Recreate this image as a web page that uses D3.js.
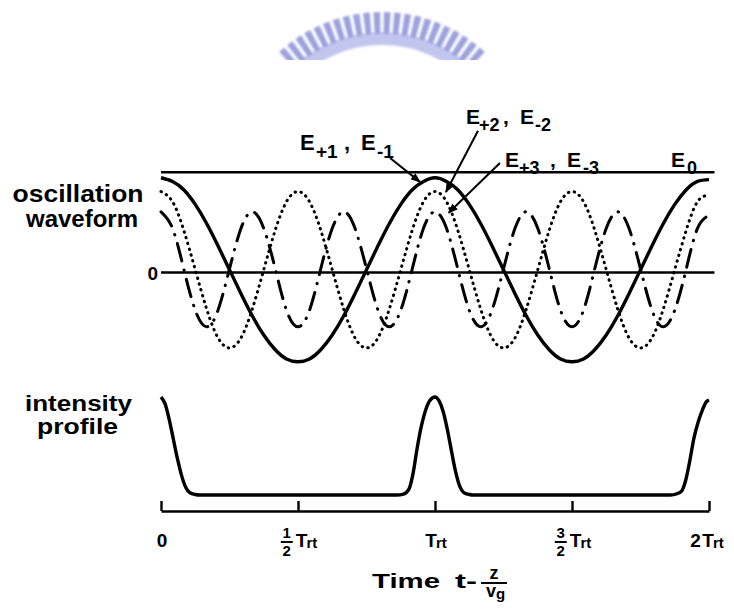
<!DOCTYPE html>
<html>
<head>
<meta charset="utf-8">
<script src="https://cdn.jsdelivr.net/npm/d3@7"></script>
<style>
  html, body { margin: 0; padding: 0; background: #fff; }
  svg { display: block; }
  text { font-family: "Liberation Sans", Arial, Helvetica, sans-serif; font-weight: bold; fill: #000; }
</style>
</head>
<body>
<svg id="chart" width="734" height="610"></svg>
<script>
// time samples in units of Trt (1/24 Trt apart)
const waveTime = [0, 0.042, 0.083, 0.125, 0.167, 0.208, 0.25, 0.292, 0.333, 0.375, 0.417, 0.458,
  0.5, 0.542, 0.583, 0.625, 0.667, 0.708, 0.75, 0.792, 0.833, 0.875, 0.917, 0.958,
  1, 1.042, 1.083, 1.125, 1.167, 1.208, 1.25, 1.292, 1.333, 1.375, 1.417, 1.458,
  1.5, 1.542, 1.583, 1.625, 1.667, 1.708, 1.75, 1.792, 1.833, 1.875, 1.917, 1.958, 2];

// E+1, E-1 (solid)
const waveE1 = [1.03, 0.99, 0.90, 0.74, 0.53, 0.29, 0.03, -0.23, -0.47, -0.68, -0.84, -0.94,
  -0.97, -0.94, -0.84, -0.68, -0.47, -0.23, 0.03, 0.29, 0.53, 0.74, 0.90, 0.99,
  1.03, 0.99, 0.90, 0.74, 0.53, 0.29, 0.03, -0.23, -0.47, -0.68, -0.84, -0.94,
  -0.97, -0.94, -0.84, -0.68, -0.47, -0.23, 0.03, 0.29, 0.53, 0.74, 0.90, 0.99, 1.01];

// E+2, E-2 (dotted)
const waveE2 = [0.88, 0.77, 0.46, 0.03, -0.40, -0.71, -0.82, -0.71, -0.40, 0.03, 0.46, 0.77,
  0.88, 0.77, 0.46, 0.03, -0.40, -0.71, -0.82, -0.71, -0.40, 0.03, 0.46, 0.77,
  0.88, 0.77, 0.46, 0.03, -0.40, -0.71, -0.82, -0.71, -0.40, 0.03, 0.46, 0.77,
  0.88, 0.77, 0.46, 0.03, -0.40, -0.71, -0.82, -0.71, -0.40, 0.03, 0.46, 0.77, 0.84];

// E+3, E-3 (dash-dot)
const waveE3 = [0.66, 0.48, 0.04, -0.41, -0.59, -0.41, 0.04, 0.48,
  0.66, 0.48, 0.04, -0.41, -0.59, -0.41, 0.04, 0.48,
  0.66, 0.48, 0.04, -0.41, -0.59, -0.41, 0.04, 0.48,
  0.66, 0.48, 0.04, -0.41, -0.59, -0.41, 0.04, 0.48,
  0.66, 0.48, 0.04, -0.41, -0.59, -0.41, 0.04, 0.48,
  0.66, 0.48, 0.04, -0.41, -0.59, -0.41, 0.04, 0.48, 0.62];

// E0 level and zero level
const refLevels = [1.09, 0];

// intensity profile
const intensityTime = [0, 0.015, 0.03, 0.045, 0.06, 0.075, 0.09, 0.105, 0.125, 0.14,
  0.5, 0.86, 0.885, 0.905, 0.92, 0.935, 0.95, 0.965, 0.98, 1.0,
  1.015, 1.03, 1.045, 1.06, 1.075, 1.09, 1.105, 1.125, 1.14,
  1.5, 1.86, 1.88, 1.9, 1.915, 1.93, 1.945, 1.96, 1.975, 1.99, 2.0];
const intensity = [1.0, 0.93, 0.77, 0.57, 0.37, 0.2, 0.08, 0.025, 0.005, 0,
  0, 0, 0.01, 0.06, 0.22, 0.48, 0.70, 0.86, 0.96, 1.0,
  0.96, 0.85, 0.67, 0.45, 0.24, 0.09, 0.025, 0.005, 0,
  0, 0, 0.01, 0.04, 0.15, 0.35, 0.58, 0.74, 0.86, 0.95, 0.97];

const tickValues = [0, 0.5, 1, 1.5, 2];
const tickLead = ['0', '', '', '', '2'];
const tickNum = ['', '1', '', '3', ''];
const tickDen = ['', '2', '', '2', ''];
const tickHasT = [false, true, true, true, true];

const svg = d3.select('#chart');

const x = d3.scaleLinear().domain([0, 2]).range([161, 709]);
const yWave = d3.scaleLinear().domain([-1, 1]).range([364.5, 180.5]);
const yInt = d3.scaleLinear().domain([0, 1]).range([495, 397]);

const defs = svg.append('defs');
defs.append('clipPath').attr('id', 'logoClip')
  .append('rect').attr('x', 0).attr('y', 0).attr('width', 734).attr('height', 60);
defs.append('filter').attr('id', 'soft')
  .append('feGaussianBlur').attr('stdDeviation', 0.8);
defs.append('marker')
  .attr('id', 'arrow')
  .attr('viewBox', '0 0 10 8')
  .attr('refX', 9).attr('refY', 4)
  .attr('markerWidth', 10).attr('markerHeight', 8)
  .attr('markerUnits', 'userSpaceOnUse')
  .attr('orient', 'auto')
  .append('path').attr('d', 'M0,0 L10,4 L0,8 Z').attr('fill', '#000');

// faded watermark logo at the top
const logo = svg.append('g')
  .attr('clip-path', 'url(#logoClip)')
  .append('g')
  .attr('filter', 'url(#soft)')
  .attr('transform', 'translate(382,164)');
logo.append('path')
  .attr('d', d3.arc()({ innerRadius: 119, outerRadius: 132, startAngle: -0.8, endAngle: 0.8 }))
  .attr('fill', '#c2c6ee');
const nTeeth = 22;
const toothAngles = d3.range(nTeeth).map(i => -0.72 + i * (1.44 / (nTeeth - 1)));
logo.selectAll('path.tooth')
  .data(toothAngles)
  .enter()
  .append('path')
  .attr('class', 'tooth')
  .attr('d', a => d3.arc()({ innerRadius: 130, outerRadius: 152, startAngle: a - 0.022, endAngle: a + 0.022 }))
  .attr('fill', '#9da2de');

// reference lines (E0 level and 0)
svg.selectAll('.ref')
  .data(refLevels)
  .enter()
  .append('line')
  .attr('class', 'ref')
  .attr('x1', x(0))
  .attr('x2', x(2.02))
  .attr('y1', d => yWave(d))
  .attr('y2', d => yWave(d))
  .attr('stroke', '#000')
  .attr('stroke-width', 2.5);

// waveforms
const waveLine = d3.line()
  .x((d, i) => x(waveTime[i]))
  .y(d => yWave(d))
  .curve(d3.curveNatural);

svg.append('path')
  .attr('d', waveLine(waveE2))
  .attr('fill', 'none')
  .attr('stroke', '#000')
  .attr('stroke-width', 3)
  .attr('stroke-linecap', 'round')
  .attr('stroke-dasharray', '0.5,5.5');

svg.append('path')
  .attr('d', waveLine(waveE3))
  .attr('fill', 'none')
  .attr('stroke', '#000')
  .attr('stroke-width', 3)
  .attr('stroke-linecap', 'round')
  .attr('stroke-dasharray', '18,9,0.5,9');

svg.append('path')
  .attr('d', waveLine(waveE1))
  .attr('fill', 'none')
  .attr('stroke', '#000')
  .attr('stroke-width', 3.4);

// intensity profile
svg.append('path')
  .attr('d', d3.line()
    .x((d, i) => x(intensityTime[i]))
    .y(d => yInt(d))
    .curve(d3.curveMonotoneX)(intensity))
  .attr('fill', 'none')
  .attr('stroke', '#000')
  .attr('stroke-width', 3.4)
  .attr('stroke-linejoin', 'round');

// time axis, ticks pointing up
const axis = svg.append('g')
  .attr('transform', 'translate(0,511)')
  .call(d3.axisTop(x).tickValues(tickValues).tickSize(10).tickSizeOuter(0).tickFormat(''));
axis.select('.domain').attr('stroke', '#000').attr('stroke-width', 2.4);
axis.selectAll('.tick line').attr('stroke', '#000').attr('stroke-width', 2.4);

// tick labels with fractions
tickValues.forEach((v, i) => {
  const g = svg.append('g');
  let cx = 0;
  if (tickLead[i]) {
    g.append('text').attr('x', cx).attr('y', 0).attr('font-size', 19).text(tickLead[i]);
    cx += 12;
  }
  if (tickNum[i]) {
    g.append('text').attr('x', cx + 7).attr('y', -9).attr('text-anchor', 'middle')
      .attr('font-size', 15).text(tickNum[i]);
    g.append('line').attr('x1', cx + 1).attr('x2', cx + 13).attr('y1', -5).attr('y2', -5)
      .attr('stroke', '#000').attr('stroke-width', 2);
    g.append('text').attr('x', cx + 7).attr('y', 9).attr('text-anchor', 'middle')
      .attr('font-size', 15).text(tickDen[i]);
    cx += 16;
  }
  if (tickHasT[i]) {
    const t = g.append('text').attr('x', cx).attr('y', 0).attr('font-size', 19);
    t.append('tspan').text('T');
    t.append('tspan').attr('font-size', 15).attr('dy', 1).attr('dx', -1).text('rt');
  }
  const bb = g.node().getBBox();
  g.attr('transform', `translate(${x(v) - bb.x - bb.width / 2 + (v === 2 ? -2 : 1)},547)`);
});

// axis title
svg.append('text').attr('x', 372).attr('y', 588).attr('font-size', 21)
  .attr('textLength', 68).attr('lengthAdjust', 'spacingAndGlyphs').text('Time');
svg.append('text').attr('x', 455).attr('y', 588).attr('font-size', 21)
  .attr('textLength', 22).attr('lengthAdjust', 'spacingAndGlyphs').text('t-');
svg.append('text').attr('x', 494).attr('y', 579).attr('text-anchor', 'middle').attr('font-size', 18).text('z');
svg.append('line').attr('x1', 481).attr('x2', 507).attr('y1', 583).attr('y2', 583)
  .attr('stroke', '#000').attr('stroke-width', 2);
const vg = svg.append('text').attr('x', 486).attr('y', 597).attr('font-size', 18);
vg.append('tspan').text('v');
vg.append('tspan').attr('font-size', 15).attr('dy', 2).text('g');

// side labels, two lines each
const sideLabels = [
  { lines: ['oscillation', 'waveform'], cx: [78, 82], y: [202, 227], len: [131, 112], size: 24 },
  { lines: ['intensity', 'profile'], cx: [78.5, 77.5], y: [411, 434], len: [107, 81], size: 22 }
];
sideLabels.forEach(l => {
  const t = svg.append('text')
    .attr('text-anchor', 'middle')
    .attr('font-size', l.size);
  l.lines.forEach((s, j) => {
    t.append('tspan')
      .attr('x', l.cx[j]).attr('y', l.y[j])
      .attr('textLength', l.len[j])
      .attr('lengthAdjust', 'spacingAndGlyphs')
      .text(s);
  });
});
svg.append('text').attr('x', 158).attr('y', yWave(0) + 7).attr('text-anchor', 'end')
  .attr('font-size', 19).text('0');

// mode labels
function modeLabel(parts) {
  const t = svg.append('text');
  parts.forEach(p => {
    t.append('tspan').attr('x', p[1]).attr('y', p[2]).attr('font-size', p[3]).text(p[0]);
  });
}
modeLabel([['E', 300, 150, 22], ['+1', 316, 158, 19], [',', 344, 150, 22], ['E', 361, 150, 22], ['-1', 377, 158, 19]]);
modeLabel([['E', 466, 124, 21], ['+2', 479, 131, 18], [',', 503, 124, 21], ['E', 520, 124, 21], ['-2', 535, 131, 18]]);
modeLabel([['E', 505, 167, 21], ['+3', 519, 174, 18], [',', 550, 167, 21], ['E', 567, 167, 21], ['-3', 583, 174, 18]]);
modeLabel([['E', 671, 167, 21], ['0', 687, 174, 18]]);

// arrows pointing to the curves
const arrows = [
  { from: [0.836, 1.245], to: [0.945, 0.985] },
  { from: [1.157, 1.54], to: [1.04, 0.875] },
  { from: [1.237, 1.19], to: [1.05, 0.65] }
];
arrows.forEach(a => {
  svg.append('line')
    .attr('x1', x(a.from[0])).attr('y1', yWave(a.from[1]))
    .attr('x2', x(a.to[0])).attr('y2', yWave(a.to[1]))
    .attr('stroke', '#000')
    .attr('stroke-width', 2)
    .attr('marker-end', 'url(#arrow)');
});
</script>
</body>
</html>
